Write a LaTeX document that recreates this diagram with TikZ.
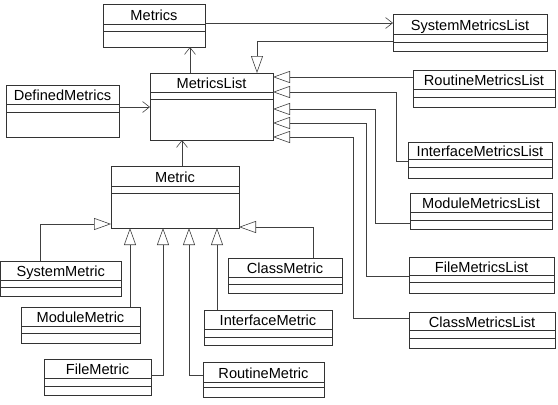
\documentclass[tikz,border=0pt]{standalone}
\usepackage{fontspec}
\setmainfont{Liberation Sans}
\usetikzlibrary{arrows.meta}
\newcommand\umlcls[8]{%
  \pgfmathsetmacro\ubw{#4-#2}\pgfmathsetmacro\ubh{#5-#3}%
  \node[classbox, minimum width=\ubw pt, minimum height=\ubh pt, anchor=north west] (#1) at (#2,#3) {};
  \draw[sepline] (#1.west |- 0,#6) -- (#1.east |- 0,#6) (#1.west |- 0,#7) -- (#1.east |- 0,#7);
  \node[classname] at ({(#2+#4)/2},{(#3+#6)/2+1}) {#8};
}
\begin{document}
\begin{tikzpicture}[x=1pt,y=-1pt,
  classbox/.style={draw=black!80, line width=0.7pt, inner sep=0pt, outer sep=0pt},
  sepline/.style={draw=black!80, line width=0.6pt},
  classname/.style={font=\fontsize{14.6}{16}\selectfont, inner sep=0pt, text height=10.4pt, text depth=0pt, anchor=center},
  conn/.style={draw=black!75, line width=0.6pt},
  assoc/.style={conn, -{Straight Barb[length=7pt,width=11pt,line width=0.6pt]}},
  gen/.style={conn, -{Triangle[open,length=17pt,width=12pt,line width=0.6pt]}},
]
\useasboundingbox (0,0) rectangle (558,405);

\umlcls{metrics}{103}{4}{205}{47}{24}{31}{Metrics}
\umlcls{sml}{393}{14}{547}{51}{34}{42}{SystemMetricsList}
\umlcls{ml}{150}{73}{273}{140}{92}{99}{MetricsList}
\umlcls{dm}{6}{85}{119}{137}{104}{112}{DefinedMetrics}
\umlcls{rml}{413}{70}{555}{107}{89}{97}{RoutineMetricsList}
\umlcls{iml}{408}{142}{552}{178}{159}{167}{InterfaceMetricsList}
\umlcls{mml}{410}{193}{552}{229}{212}{220}{ModuleMetricsList}
\umlcls{fml}{409}{257}{554}{293}{275}{282}{FileMetricsList}
\umlcls{cml}{409}{312}{555}{348}{330}{338}{ClassMetricsList}
\umlcls{metric}{111}{166}{239}{228}{186}{193}{Metric}
\umlcls{smet}{0.5}{261}{121}{296}{280}{287}{SystemMetric}
\umlcls{modm}{21}{307}{140}{343}{326}{333}{ModuleMetric}
\umlcls{fm}{44}{359}{151}{395}{378}{386}{FileMetric}
\umlcls{cm}{228}{258}{342}{293}{277}{284}{ClassMetric}
\umlcls{im}{204}{310}{332}{345}{329}{337}{InterfaceMetric}
\umlcls{rm}{203}{362}{324}{397}{382}{387}{RoutineMetric}

% associations
\draw[assoc] (ml.north -| 190,0) -- (metrics.south -| 190,0);
\draw[assoc] (metrics.east |- 0,23) -- (sml.west |- 0,23);
\draw[assoc] (dm.east |- 0,107) -- (ml.west |- 0,107);
\draw[assoc] (metric.north -| 182,0) -- (ml.south -| 182,0);

% generalizations to MetricsList
\draw[gen] (sml.west |- 0,41) -| (ml.north -| 257,0);
\draw[gen] (rml.west |- 0,77) -- (ml.east |- 0,77);
\draw[gen] (iml.west |- 0,161) -| (396,92) -- (ml.east |- 0,92);
\draw[gen] (mml.west |- 0,223) -| (375,109) -- (ml.east |- 0,109);
\draw[gen] (fml.west |- 0,276) -| (366,123) -- (ml.east |- 0,123);
\draw[gen] (cml.west |- 0,318) -| (353,137) -- (ml.east |- 0,137);

% generalizations to Metric
\draw[gen] (smet.north -| 40,0) |- (metric.west |- 0,224);
\draw[gen] (modm.north -| 130,0) -- (metric.south -| 130,0);
\draw[gen] (fm.east |- 0,375) -| (metric.south -| 163,0);
\draw[gen] (rm.west |- 0,375) -| (metric.south -| 189,0);
\draw[gen] (im.north -| 217,0) -- (metric.south -| 217,0);
\draw[gen] (cm.north -| 313,0) |- (metric.east |- 0,227);
\end{tikzpicture}
\end{document}
